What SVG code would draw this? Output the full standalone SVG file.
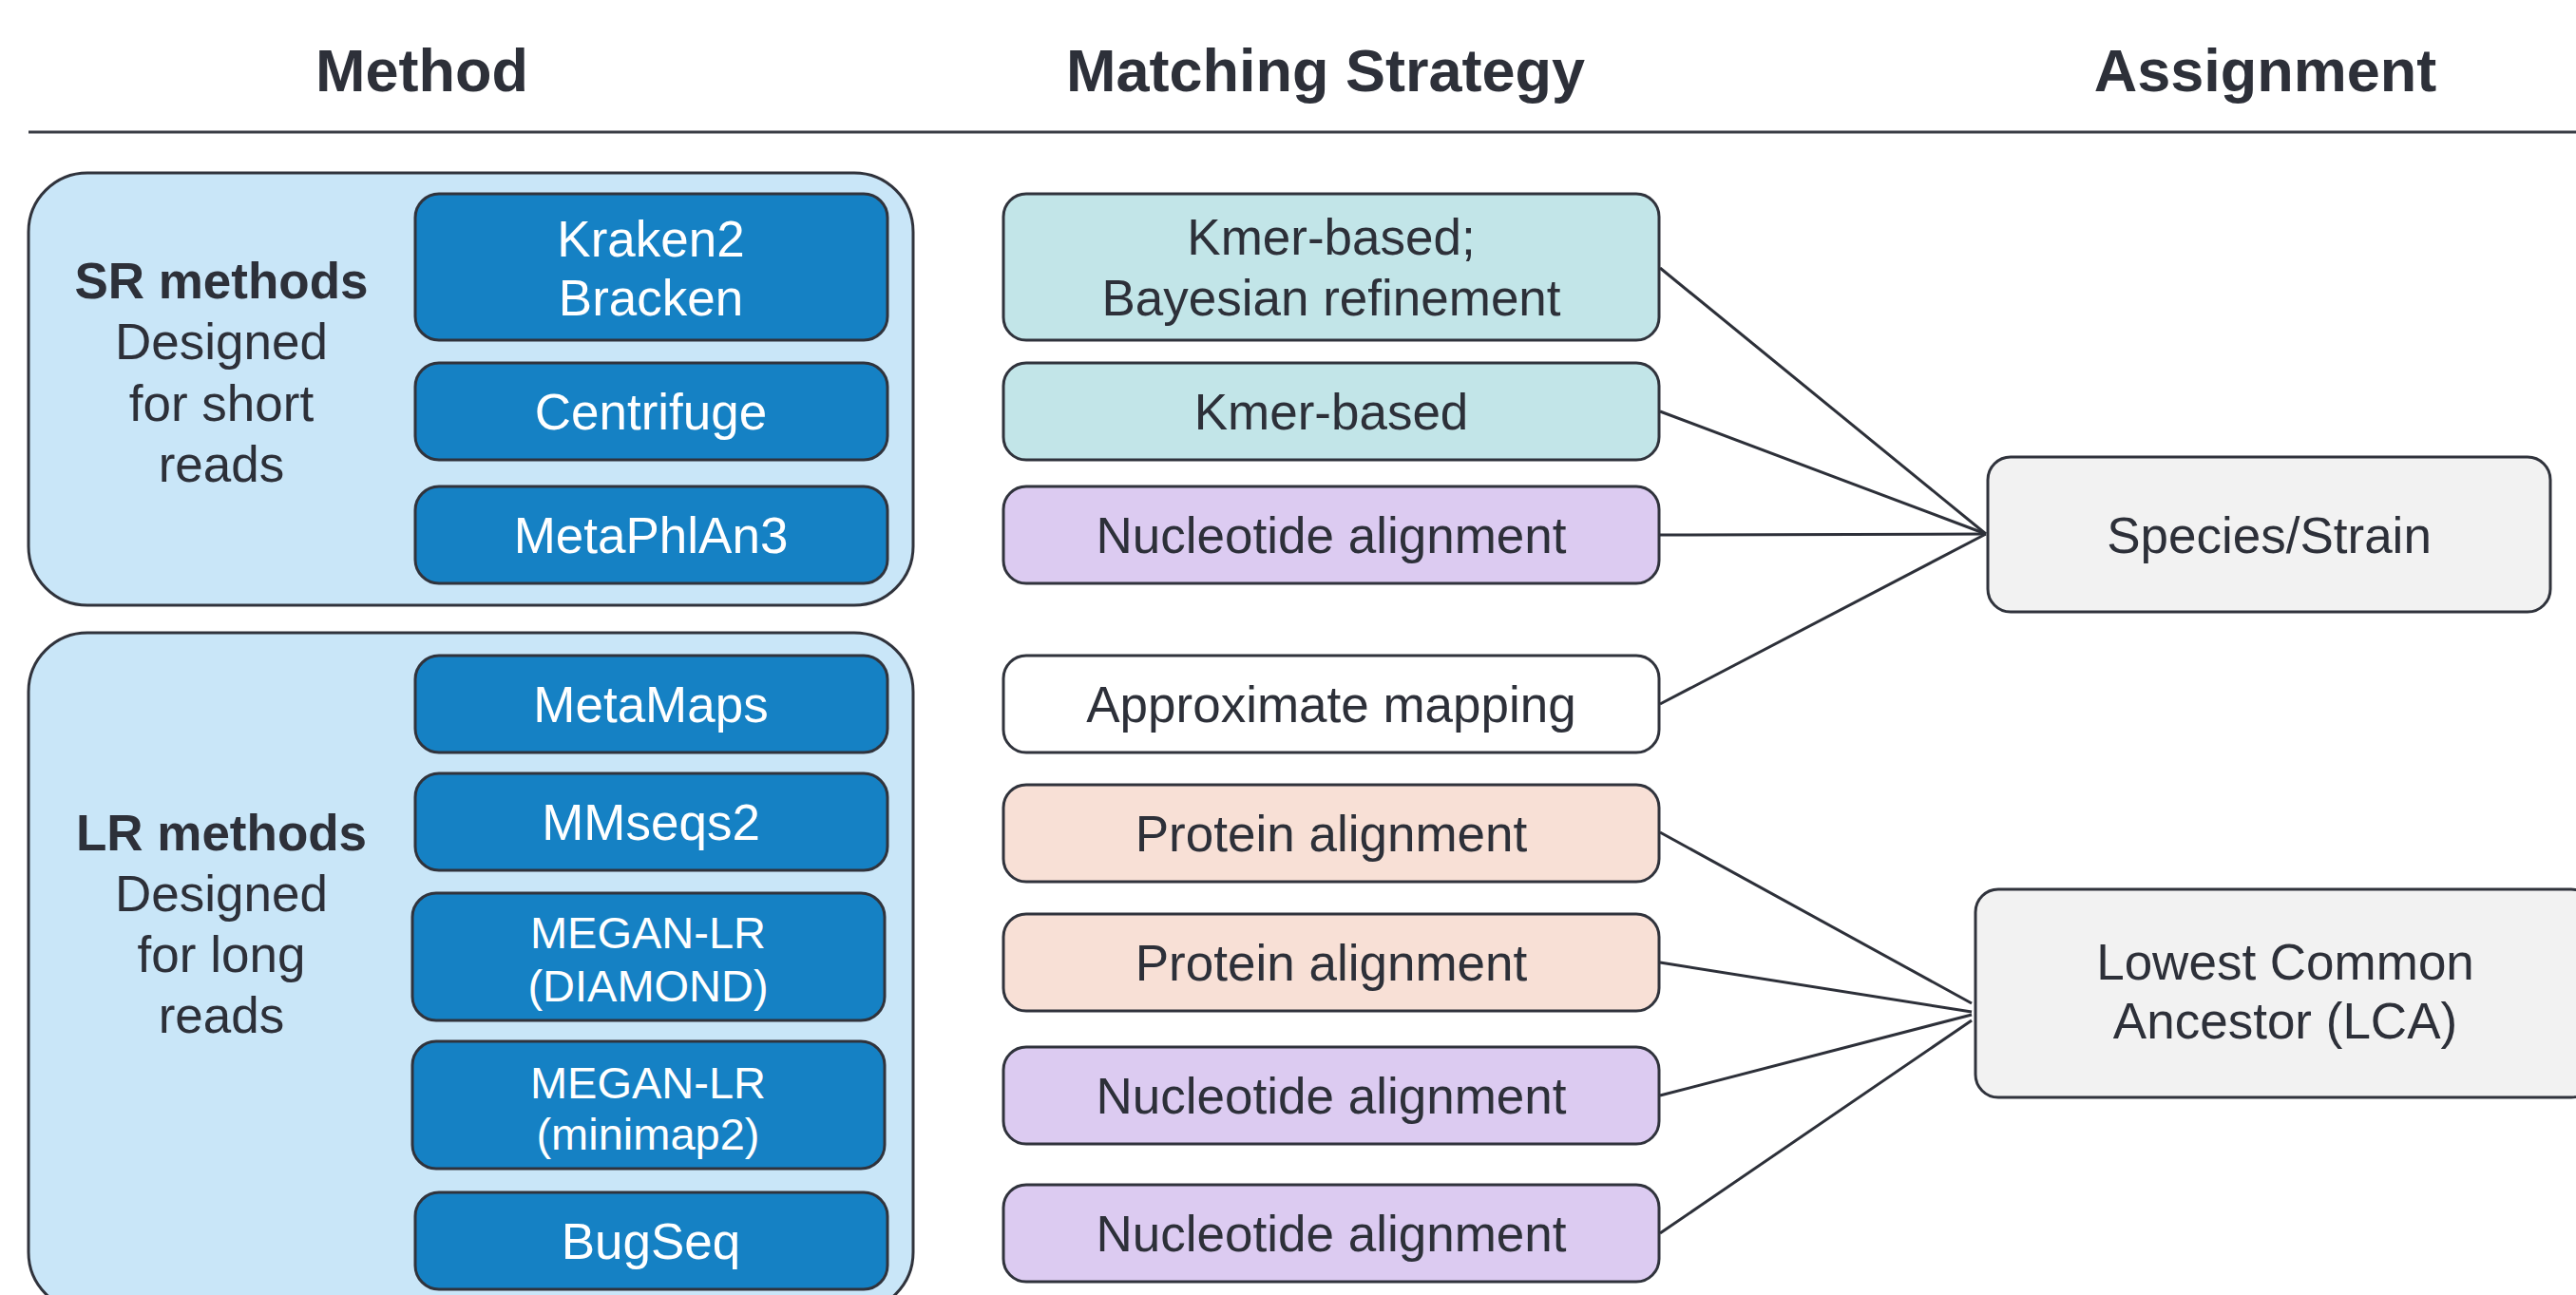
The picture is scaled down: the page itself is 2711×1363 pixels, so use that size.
<svg xmlns="http://www.w3.org/2000/svg" width="2711" height="1363" viewBox="0 0 2711 1363">
<style>
text{font-family:"Liberation Sans",Arial,sans-serif;text-anchor:middle}
.hdr{font-size:63px;font-weight:bold;fill:#2d3039}
.grp{fill:#c9e6f8;stroke:#30333c;stroke-width:3}
.tool{fill:#1581c4;stroke:#30333c;stroke-width:3}
.tt{font-size:53px;fill:#ffffff}
.ts{font-size:47px;fill:#ffffff}
.lbl{font-size:53px;fill:#2d3039}
.lblb{font-size:53px;font-weight:bold;fill:#2d3039}
.kmer{fill:#c2e5e8;stroke:#30333c;stroke-width:3}
.nuc{fill:#dccbf1;stroke:#30333c;stroke-width:3}
.prot{fill:#f8e0d6;stroke:#30333c;stroke-width:3}
.plain{fill:#ffffff;stroke:#30333c;stroke-width:3}
.asg{fill:#f2f2f2;stroke:#30333c;stroke-width:3}
.conn line{stroke:#2d3039;stroke-width:3}
</style>
<g id="headers">
<text class="hdr" x="444" y="96">Method</text>
<text class="hdr" x="1395" y="96">Matching Strategy</text>
<text class="hdr" x="2384" y="96">Assignment</text>
<line x1="30" y1="139" x2="2711" y2="139" stroke="#3a3d45" stroke-width="3"/>
</g>
<g id="sr-group">
<rect class="grp" x="30" y="182" width="931" height="455" rx="62"/>
<text class="lblb" x="233" y="314">SR methods</text>
<text class="lbl" x="233" y="378">Designed</text>
<text class="lbl" x="233" y="443">for short</text>
<text class="lbl" x="233" y="507">reads</text>
</g>
<g id="lr-group">
<rect class="grp" x="30" y="666" width="931" height="714" rx="62"/>
<text class="lblb" x="233" y="895">LR methods</text>
<text class="lbl" x="233" y="959">Designed</text>
<text class="lbl" x="233" y="1023">for long</text>
<text class="lbl" x="233" y="1087">reads</text>
</g>
<g id="kraken2">
<rect class="tool" x="437" y="204" width="497" height="154" rx="25"/>
<text class="tt" x="685" y="270">Kraken2</text>
<text class="tt" x="685" y="332">Bracken</text>
</g>
<g id="centrifuge">
<rect class="tool" x="437" y="382" width="497" height="102" rx="25"/>
<text class="tt" x="685" y="452">Centrifuge</text>
</g>
<g id="metaphlan3">
<rect class="tool" x="437" y="512" width="497" height="102" rx="25"/>
<text class="tt" x="685" y="582">MetaPhlAn3</text>
</g>
<g id="metamaps">
<rect class="tool" x="437" y="690" width="497" height="102" rx="25"/>
<text class="tt" x="685" y="760">MetaMaps</text>
</g>
<g id="mmseqs2">
<rect class="tool" x="437" y="814" width="497" height="102" rx="25"/>
<text class="tt" x="685" y="884">MMseqs2</text>
</g>
<g id="megan-diamond">
<rect class="tool" x="434" y="940" width="497" height="134" rx="25"/>
<text class="ts" x="682" y="998">MEGAN-LR</text>
<text class="ts" x="682" y="1054">(DIAMOND)</text>
</g>
<g id="megan-minimap2">
<rect class="tool" x="434" y="1096" width="497" height="134" rx="25"/>
<text class="ts" x="682" y="1156">MEGAN-LR</text>
<text class="ts" x="682" y="1210">(minimap2)</text>
</g>
<g id="bugseq">
<rect class="tool" x="437" y="1255" width="497" height="102" rx="25"/>
<text class="tt" x="685" y="1325">BugSeq</text>
</g>
<g id="m-kmer-bayes">
<rect class="kmer" x="1056" y="204" width="690" height="154" rx="24"/>
<text class="lbl" x="1401" y="268">Kmer-based;</text>
<text class="lbl" x="1401" y="332">Bayesian refinement</text>
</g>
<g id="m-kmer">
<rect class="kmer" x="1056" y="382" width="690" height="102" rx="24"/>
<text class="lbl" x="1401" y="452">Kmer-based</text>
</g>
<g id="m-nuc1">
<rect class="nuc" x="1056" y="512" width="690" height="102" rx="24"/>
<text class="lbl" x="1401" y="582">Nucleotide alignment</text>
</g>
<g id="m-approx">
<rect class="plain" x="1056" y="690" width="690" height="102" rx="24"/>
<text class="lbl" x="1401" y="760">Approximate mapping</text>
</g>
<g id="m-prot1">
<rect class="prot" x="1056" y="826" width="690" height="102" rx="24"/>
<text class="lbl" x="1401" y="896">Protein alignment</text>
</g>
<g id="m-prot2">
<rect class="prot" x="1056" y="962" width="690" height="102" rx="24"/>
<text class="lbl" x="1401" y="1032">Protein alignment</text>
</g>
<g id="m-nuc2">
<rect class="nuc" x="1056" y="1102" width="690" height="102" rx="24"/>
<text class="lbl" x="1401" y="1172">Nucleotide alignment</text>
</g>
<g id="m-nuc3">
<rect class="nuc" x="1056" y="1247" width="690" height="102" rx="24"/>
<text class="lbl" x="1401" y="1317">Nucleotide alignment</text>
</g>
<g id="a-species">
<rect class="asg" x="2092" y="481" width="592" height="163" rx="24"/>
<text class="lbl" x="2388" y="582">Species/Strain</text>
</g>
<g id="a-lca">
<rect class="asg" x="2079" y="936" width="651" height="219" rx="24"/>
<text class="lbl" x="2405" y="1031">Lowest Common</text>
<text class="lbl" x="2405" y="1093">Ancestor (LCA)</text>
</g>
<g id="connectors" class="conn">
<line x1="1747" y1="282" x2="2090" y2="562"/>
<line x1="1747" y1="433" x2="2090" y2="562"/>
<line x1="1747" y1="563" x2="2090" y2="562"/>
<line x1="1747" y1="741" x2="2090" y2="562"/>
<line x1="1747" y1="876" x2="2075" y2="1056"/>
<line x1="1747" y1="1013" x2="2075" y2="1065"/>
<line x1="1747" y1="1153" x2="2075" y2="1068"/>
<line x1="1747" y1="1298" x2="2075" y2="1074"/>
</g>
</svg>
